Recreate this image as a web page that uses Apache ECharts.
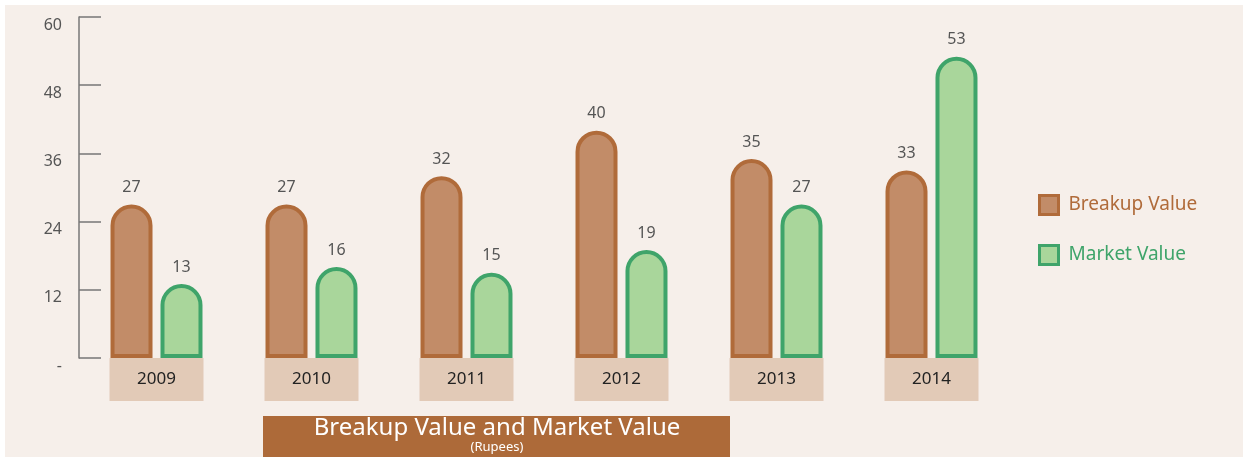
<!DOCTYPE html>
<html>
<head>
<meta charset="utf-8">
<script src="https://cdn.jsdelivr.net/npm/echarts@6/dist/echarts.min.js"></script>
<style>
  html, body { margin: 0; padding: 0; background: #fff; }
  #bg { position: absolute; left: 5px; top: 5px; right: 0; bottom: 0; background: #f6efea; }
  #chart { position: absolute; left: 0; top: 0; width: 1243px; height: 457px; }
</style>
</head>
<body>
<div id="bg"></div>
<div id="chart"></div>
<script>
const years = ['2009', '2010', '2011', '2012', '2013', '2014'];
const breakupValue = [27, 27, 32, 40, 35, 33];
const marketValue = [13, 16, 15, 19, 27, 53];

const font = "'Noto Sans', sans-serif";
let chart = echarts.init(document.getElementById('chart'));
chart.setOption({
  backgroundColor: 'transparent',
  textStyle: { fontFamily: font },
  grid: { left: 79, right: 234, top: 17, bottom: 99 },
  legend: {
    orient: 'vertical',
    left: 1033,
    top: 189,
    icon: 'rect',
    itemWidth: 19,
    itemHeight: 19,
    itemGap: 28,
    textStyle: { fontSize: 19, padding: [0, 0, 0, 5] },
    data: [
      { name: 'Breakup Value', textStyle: { color: '#b06b3a' }, itemStyle: { borderWidth: 3 } },
      { name: 'Market Value', textStyle: { color: '#3fa46a' }, itemStyle: { borderWidth: 3 } }
    ]
  },
  xAxis: {
    type: 'category',
    data: years,
    axisLine: { show: false },
    axisTick: { show: false },
    axisLabel: {
      margin: 0,
      width: 94,
      height: 43,
      lineHeight: 43,
      align: 'center',
      backgroundColor: '#e2cab7',
      color: '#222',
      fontSize: 17
    }
  },
  yAxis: {
    type: 'value',
    min: 0,
    max: 60,
    interval: 12,
    splitLine: { show: false },
    axisLine: { show: true, lineStyle: { color: '#777', width: 1.5 } },
    axisTick: { show: true, inside: true, length: 22, lineStyle: { color: '#777', width: 1.5 } },
    axisLabel: {
      margin: 17,
      color: '#555',
      fontSize: 16,
      verticalAlign: 'top',
      formatter: v => (v === 0 ? '-' : v)
    }
  },
  series: [
    {
      name: 'Breakup Value',
      type: 'bar',
      data: breakupValue,
      barWidth: 42,
      barGap: '19%',
      itemStyle: { color: '#c28c68', borderColor: '#b06b3a', borderWidth: 4, borderRadius: [21, 21, 0, 0] },
      label: { show: true, position: 'top', distance: 9, color: '#555', fontSize: 16 }
    },
    {
      name: 'Market Value',
      type: 'bar',
      data: marketValue,
      barWidth: 42,
      itemStyle: { color: '#a9d69b', borderColor: '#3fa46a', borderWidth: 4, borderRadius: [21, 21, 0, 0] },
      label: { show: true, position: 'top', distance: 9, color: '#555', fontSize: 16 }
    }
  ],
  graphic: [
    { type: 'rect', x: 263, y: 416, shape: { width: 467, height: 45 }, style: { fill: '#ad6a39' } },
    { type: 'text', x: 497, y: 416, style: { text: 'Breakup Value and Market Value', fill: '#fff', font: "24px 'Noto Sans', sans-serif", align: 'center', verticalAlign: 'top' } },
    { type: 'text', x: 497, y: 441, style: { text: '(Rupees)', fill: '#fff', font: "13px 'Noto Sans', sans-serif", align: 'center', verticalAlign: 'top' } }
  ]
});
</script>
</body>
</html>
